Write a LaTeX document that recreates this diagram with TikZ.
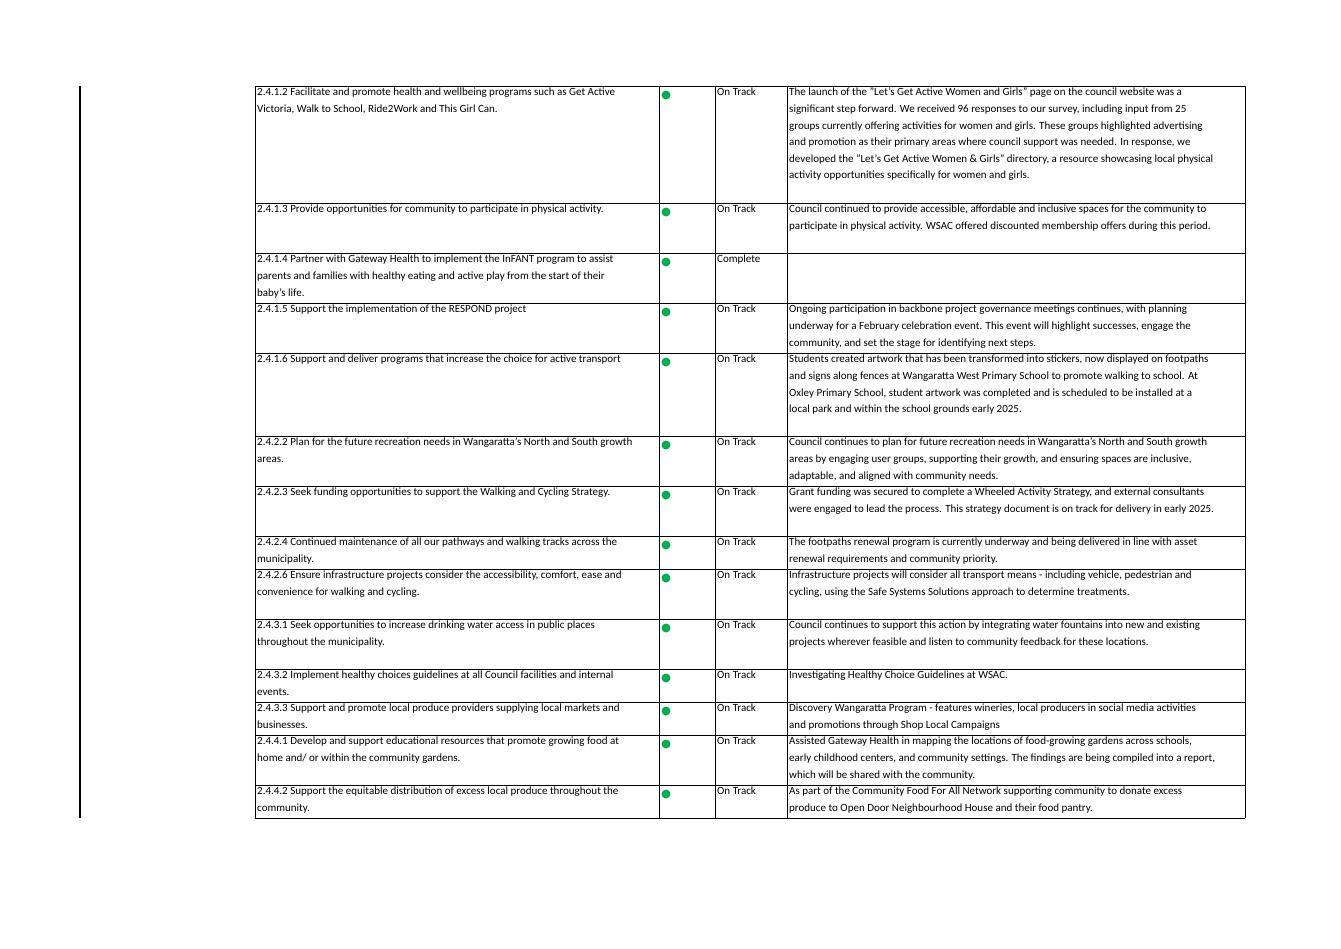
\documentclass[tikz,border=0pt]{standalone}
\usepackage{fontspec}
\setmainfont{Carlito}
\begin{document}
\begin{tikzpicture}[x=1pt,y=-1pt,
  cell/.style={anchor=north west,inner sep=0pt,align=left,font=\fontsize{11}{16.6}\selectfont},
  dot/.style={circle,fill=dotgreen,inner sep=0pt,minimum size=9pt},
  grid/.style={line width=0.9pt}]
\definecolor{dotgreen}{RGB}{0,176,80}
\useasboundingbox (0,0) rectangle (1341,948);
\draw[line width=1.5pt] (80,86) -- (80,818);
\def\rows{86,203,253,303,353,436,486,536,569,619,669,702,735,785,818}
\foreach \y in \rows {\draw[grid] (255,\y) -- (1245,\y);}
\foreach \x in {255,659,715,787,1245} {\draw[grid] (\x,86) -- (\x,818);}
\newcommand\myrow[5]{%
  \node[cell] (a#1) at (257,#2) {#3};
  \node[dot] (d#1) at (666,#2+7) {};
  \node[cell] (s#1) at (717,#2) {#4};
  \node[cell] (c#1) at (789,#2) {#5};}
\myrow{1}{88}{2.4.1.2 Facilitate and promote health and wellbeing programs such as Get Active\\Victoria, Walk to School, Ride2Work and This Girl Can.}{On Track}{The launch of the "Let's Get Active Women and Girls" page on the council website was a\\significant step forward. We received 96 responses to our survey, including input from 25\\groups currently offering activities for women and girls. These groups highlighted advertising\\and promotion as their primary areas where council support was needed. In response, we\\developed the "Let's Get Active Women \& Girls" directory, a resource showcasing local physical\\activity opportunities specifically for women and girls.}
\myrow{2}{205}{2.4.1.3 Provide opportunities for community to participate in physical activity.}{On Track}{Council continued to provide accessible, affordable and inclusive spaces for the community to\\participate in physical activity. WSAC offered discounted membership offers during this period.}
\myrow{3}{255}{2.4.1.4 Partner with Gateway Health to implement the InFANT program to assist\\parents and families with healthy eating and active play from the start of their\\baby's life.}{Complete}{}
\myrow{4}{305}{2.4.1.5 Support the implementation of the RESPOND project}{On Track}{Ongoing participation in backbone project governance meetings continues, with planning\\underway for a February celebration event. This event will highlight successes, engage the\\community, and set the stage for identifying next steps.}
\myrow{5}{355}{2.4.1.6 Support and deliver programs that increase the choice for active transport}{On Track}{Students created artwork that has been transformed into stickers, now displayed on footpaths\\and signs along fences at Wangaratta West Primary School to promote walking to school. At\\Oxley Primary School, student artwork was completed and is scheduled to be installed at a\\local park and within the school grounds early 2025.}
\myrow{6}{438}{2.4.2.2 Plan for the future recreation needs in Wangaratta's North and South growth\\areas.}{On Track}{Council continues to plan for future recreation needs in Wangaratta's North and South growth\\areas by engaging user groups, supporting their growth, and ensuring spaces are inclusive,\\adaptable, and aligned with community needs.}
\myrow{7}{488}{2.4.2.3 Seek funding opportunities to support the Walking and Cycling Strategy.}{On Track}{Grant funding was secured to complete a Wheeled Activity Strategy, and external consultants\\were engaged to lead the process. This strategy document is on track for delivery in early 2025.}
\myrow{8}{538}{2.4.2.4 Continued maintenance of all our pathways and walking tracks across the\\municipality.}{On Track}{The footpaths renewal program is currently underway and being delivered in line with asset\\renewal requirements and community priority.}
\myrow{9}{571}{2.4.2.6 Ensure infrastructure projects consider the accessibility, comfort, ease and\\convenience for walking and cycling.}{On Track}{Infrastructure projects will consider all transport means - including vehicle, pedestrian and\\cycling, using the Safe Systems Solutions approach to determine treatments.}
\myrow{10}{621}{2.4.3.1 Seek opportunities to increase drinking water access in public places\\throughout the municipality.}{On Track}{Council continues to support this action by integrating water fountains into new and existing\\projects wherever feasible and listen to community feedback for these locations.}
\myrow{11}{671}{2.4.3.2 Implement healthy choices guidelines at all Council facilities and internal\\events.}{On Track}{Investigating Healthy Choice Guidelines at WSAC.}
\myrow{12}{704}{2.4.3.3 Support and promote local produce providers supplying local markets and\\businesses.}{On Track}{Discovery Wangaratta Program - features wineries, local producers in social media activities\\and promotions through Shop Local Campaigns}
\myrow{13}{737}{2.4.4.1 Develop and support educational resources that promote growing food at\\home and/ or within the community gardens.}{On Track}{Assisted Gateway Health in mapping the locations of food-growing gardens across schools,\\early childhood centers, and community settings. The findings are being compiled into a report,\\which will be shared with the community.}
\myrow{14}{787}{2.4.4.2 Support the equitable distribution of excess local produce throughout the\\community.}{On Track}{As part of the Community Food For All Network supporting community to donate excess\\produce to Open Door Neighbourhood House and their food pantry.}
\end{tikzpicture}
\end{document}
